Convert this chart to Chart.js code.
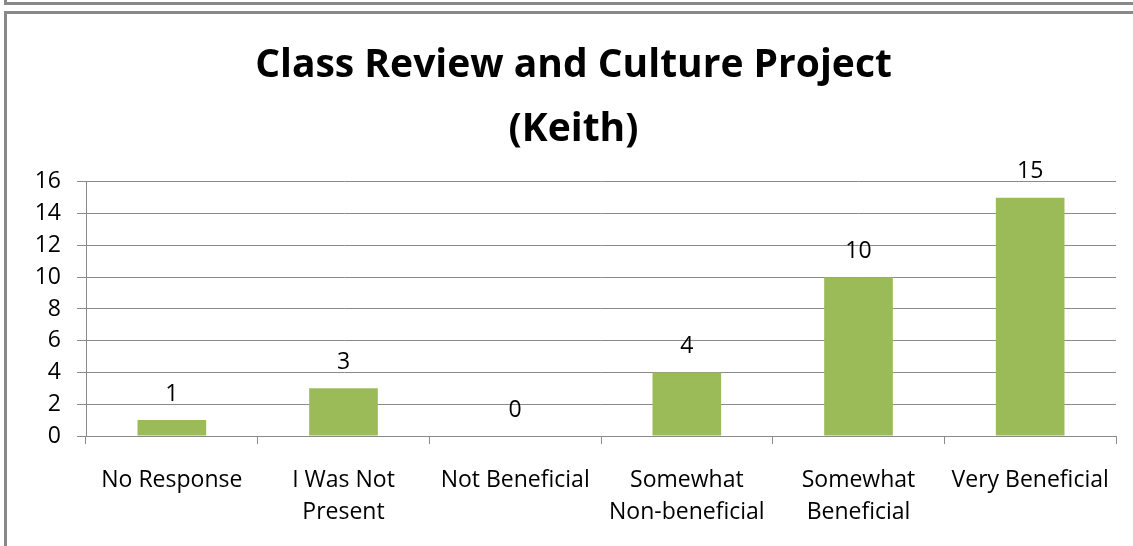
<!DOCTYPE html>
<html>
<head>
<meta charset="utf-8">
<script src="https://cdn.jsdelivr.net/npm/chart.js@4"></script>
<style>
  html, body { margin: 0; padding: 0; background: #fff; overflow: hidden; }
  #prev-frame {
    position: absolute; left: 4px; top: -10px; width: 1200px; height: 12px;
    border-left: 3px solid #888; border-bottom: 3px solid #888;
  }
  #frame {
    position: absolute; left: 4px; top: 11px; width: 1200px; height: 600px;
    border-left: 3px solid #888; border-top: 3px solid #888;
  }
  canvas { display: block; }
</style>
</head>
<body>
<div id="prev-frame"></div>
<div id="frame">
  <canvas id="chart" width="1140" height="532"></canvas>
</div>
<script>
// chart data
const titleLines = ['Class Review and Culture Project', '(Keith)'];
const categories = [
  'No Response',
  ['I Was Not', 'Present'],
  'Not Beneficial',
  ['Somewhat', 'Non-beneficial'],
  ['Somewhat', 'Beneficial'],
  'Very Beneficial'
];
const responses = [1, 3, 0, 4, 10, 15];
const yMax = 16;
const yStep = 2;

const barColor = '#9BBB59';
const gridColor = '#8a8a8a';
const fontFamily = "'Open Sans', 'Noto Sans', sans-serif";

// draw the value above each bar
const valueLabels = {
  id: 'valueLabels',
  afterDatasetsDraw(chart) {
    const ctx = chart.ctx;
    const meta = chart.getDatasetMeta(0);
    ctx.save();
    ctx.font = '23px ' + fontFamily;
    ctx.fillStyle = '#000';
    ctx.textAlign = 'center';
    ctx.textBaseline = 'middle';
    meta.data.forEach((bar, i) => {
      ctx.fillText(String(responses[i]), bar.x, bar.y - 26);
    });
    ctx.restore();
  }
};

const ctx = document.getElementById('chart').getContext('2d');
new Chart(ctx, {
  type: 'bar',
  data: {
    labels: categories,
    datasets: [{
      data: responses,
      backgroundColor: barColor,
      borderWidth: 0,
      categoryPercentage: 1,
      barPercentage: 0.4
    }]
  },
  options: {
    responsive: false,
    animation: false,
    // left padding + narrower y axis box keeps the title centred like the original
    layout: { padding: { left: 24, right: 31, top: 0, bottom: 0 } },
    plugins: {
      legend: { display: false },
      tooltip: { enabled: false },
      title: {
        display: true,
        text: titleLines,
        color: '#000',
        font: { family: fontFamily, size: 39, weight: 'bold', lineHeight: 1.64 },
        padding: { top: 20, bottom: 20 }
      }
    },
    scales: {
      x: {
        grid: {
          offset: true,
          drawOnChartArea: false,
          drawTicks: true,
          tickLength: 8,
          color: gridColor
        },
        border: { color: gridColor },
        ticks: {
          color: '#000',
          font: { family: fontFamily, size: 23, lineHeight: 1.39 },
          padding: 20,
          maxRotation: 0,
          autoSkip: false
        },
        afterFit(scale) { scale.height = 110; }
      },
      y: {
        min: 0,
        max: yMax,
        grid: { color: gridColor, tickLength: 9 },
        border: { color: gridColor },
        ticks: {
          stepSize: yStep,
          color: '#000',
          font: { family: fontFamily, size: 23 },
          padding: 16
        },
        afterFit(scale) { scale.width = 55; }
      }
    }
  },
  plugins: [valueLabels]
});
</script>
</body>
</html>
